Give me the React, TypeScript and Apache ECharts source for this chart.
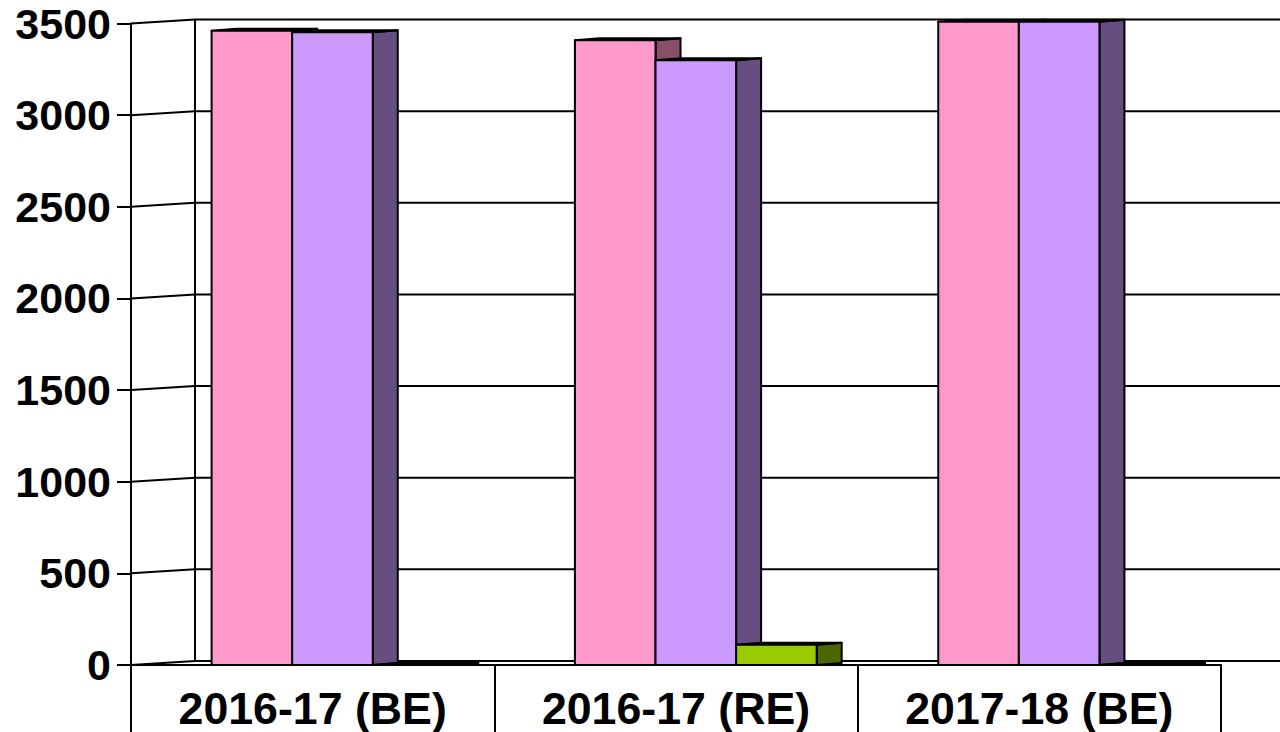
import React, { useEffect, useRef } from "react";
import * as echarts from "echarts";

const categories = ["2016-17 (BE)", "2016-17 (RE)", "2017-18 (BE)"];
const seriesA = [3460, 3408, 3510];
const seriesB = [3452, 3300, 3510];
const seriesC = [0, 110, 0];
const tickValues = [0, 500, 1000, 1500, 2000, 2500, 3000, 3500];

const barStyles = [
  { front: "#FF99CC", dark: "#884F68" },
  { front: "#CC99FF", dark: "#664F80" },
  { front: "#99CC00", dark: "#4D6600" },
];

const WALL_DX = 64;
const WALL_DY = -4;
const BAR_DX = 25;
const BAR_DY = -2;
const LINE = "#000";
const LW = 2;

function wallItem(params: any, api: any) {
  const v = api.value(0);
  const rect = params.coordSys;
  const y = api.coord([0, v])[1];
  const x0 = rect.x;
  const x1 = rect.x + WALL_DX;
  const children: any[] = [
    {
      type: "line",
      shape: { x1: x0, y1: y, x2: x1, y2: y + WALL_DY },
      style: { stroke: LINE, lineWidth: LW },
    },
    {
      type: "line",
      shape: { x1, y1: y + WALL_DY, x2: rect.x + rect.width + WALL_DX, y2: y + WALL_DY },
      style: { stroke: LINE, lineWidth: LW },
    },
  ];
  if (params.dataIndex === 0) {
    const top = api.coord([0, tickValues[tickValues.length - 1]])[1];
    children.push({
      type: "line",
      shape: { x1, y1: y + WALL_DY, x2: x1, y2: top + WALL_DY },
      style: { stroke: LINE, lineWidth: LW },
    });
  }
  return { type: "group", children };
}

function barItem(seriesPos: number) {
  return (_params: any, api: any) => {
    const idx = api.value(0);
    const v = api.value(1);
    const top = api.coord([idx, v]);
    const base = api.coord([idx, 0]);
    const band = api.size([1, 0])[0];
    const w = band * 0.2218;
    const left = top[0] - band / 2 + w + seriesPos * w;
    const right = left + w;
    const s = barStyles[seriesPos];
    const stroke = { stroke: LINE, lineWidth: LW, lineJoin: "round" };
    return {
      type: "group",
      children: [
        {
          type: "polygon",
          shape: {
            points: [
              [right, top[1]],
              [right + BAR_DX, top[1] + BAR_DY],
              [right + BAR_DX, base[1] + BAR_DY],
              [right, base[1]],
            ],
          },
          style: { fill: s.dark, ...stroke },
        },
        {
          type: "polygon",
          shape: {
            points: [
              [left, top[1]],
              [left + BAR_DX, top[1] + BAR_DY],
              [right + BAR_DX, top[1] + BAR_DY],
              [right, top[1]],
            ],
          },
          style: { fill: s.dark, ...stroke },
        },
        {
          type: "rect",
          shape: { x: left, y: top[1], width: w, height: base[1] - top[1] },
          style: { fill: s.front, ...stroke },
        },
      ],
    };
  };
}

export default function App() {
  const ref = useRef<HTMLDivElement>(null);
  useEffect(() => {
    document.body.style.margin = "0";
    document.body.style.overflow = "hidden";
    const chart = echarts.init(ref.current!, undefined, { renderer: "svg" });
    const font = { fontFamily: "Liberation Sans", fontWeight: "bold" as const, color: "#000" };
    chart.setOption({
      animation: false,
      backgroundColor: "#fff",
      grid: { left: 131, top: 23.5, width: 1090, height: 641.5, containLabel: false },
      xAxis: {
        type: "category",
        data: categories,
        boundaryGap: true,
        axisLine: { lineStyle: { color: LINE, width: LW } },
        axisTick: { show: true, length: 68, lineStyle: { color: LINE, width: LW } },
        axisLabel: { ...font, fontSize: 44.7, margin: 21, interval: 0 },
        splitLine: { show: false },
      },
      yAxis: {
        type: "value",
        min: 0,
        max: 3500,
        interval: 500,
        axisLine: { show: true, lineStyle: { color: LINE, width: LW } },
        axisTick: { show: true, length: 14, lineStyle: { color: LINE, width: LW } },
        axisLabel: { ...font, fontSize: 43, margin: 20, formatter: (v: number) => String(v) },
        splitLine: { show: false },
      },
      series: [
        {
          type: "custom",
          name: "wall",
          renderItem: wallItem,
          data: tickValues.map((v) => [v]),
          encode: { y: 0 },
          silent: true,
          clip: false,
          z: 1,
        },
        ...[seriesA, seriesB, seriesC].map((vals, i) => ({
          type: "custom",
          name: "s" + i,
          renderItem: barItem(i),
          data: vals.map((v, k) => [k, v]),
          encode: { x: 0, y: 1 },
          clip: false,
          z: 2 + i,
        })),
      ],
    });
    return () => chart.dispose();
  }, []);
  return <div ref={ref} style={{ position: "fixed", left: 0, top: 0, width: 1280, height: 732 }} />;
}
